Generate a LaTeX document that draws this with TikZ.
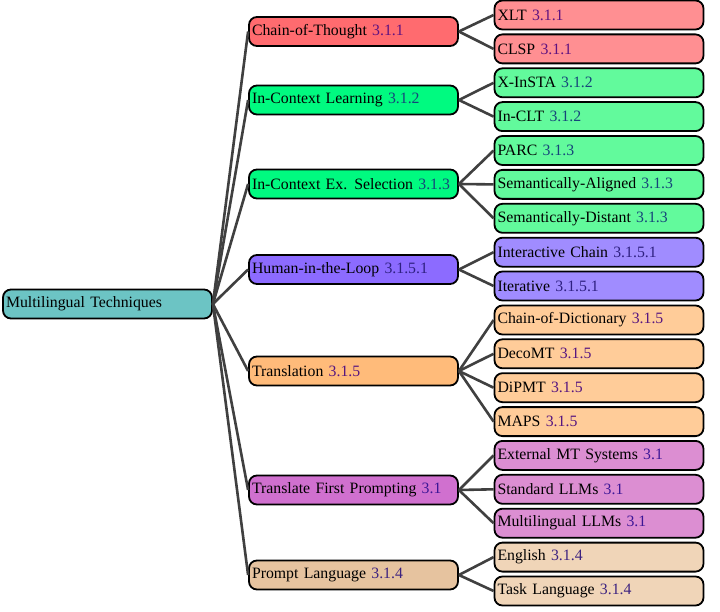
\documentclass[tikz,border=0pt]{standalone}
\usepackage{fontspec}
\setmainfont{Liberation Serif}
\begin{document}
\begin{tikzpicture}[x=1pt,y=-1pt,
  box/.style={draw=black, line width=1.8pt, rounded corners=8pt, minimum height=29pt,
    text width=203pt, inner xsep=3pt, inner ysep=2pt, align=left,
    font=\fontsize{15.8}{18}\selectfont},
  conn/.style={draw=black!75, line width=2.6pt}
]
\definecolor{cRoot}{HTML}{6CC4C4}
\definecolor{cCoT}{HTML}{FF6B6F}\definecolor{cCoTb}{HTML}{FF8F92}
\definecolor{cICL}{HTML}{00FA80}\definecolor{cICLb}{HTML}{62FA9C}
\definecolor{cHL}{HTML}{8C6BFF}\definecolor{cHLb}{HTML}{A08CFF}
\definecolor{cTr}{HTML}{FFBB7A}\definecolor{cTrb}{HTML}{FFCC99}
\definecolor{cTF}{HTML}{D070CF}\definecolor{cTFb}{HTML}{DC8ED2}
\definecolor{cPL}{HTML}{E6C39F}\definecolor{cPLb}{HTML}{F0D5B8}
\definecolor{nCoT}{HTML}{5E1280}
\definecolor{nICL}{HTML}{16457A}
\definecolor{nHL}{HTML}{2E2080}
\definecolor{nTr}{HTML}{561580}
\definecolor{nTF}{HTML}{3C1696}
\definecolor{nPL}{HTML}{3C2280}
\useasboundingbox (0,0) rectangle (720,612);
\fill[white] (0,0) rectangle (720,612);

% root
\node[box, fill=cRoot] (root) at (107.5,304) {Multilingual Techniques};

% level 1
\node[box, fill=cCoT] (cot) at (353.5,31.5) {Chain-of-Thought \textcolor{nCoT}{3.1.1}};
\node[box, fill=cICL] (icl) at (353.5,100) {In-Context Learning \textcolor{nICL}{3.1.2}};
\node[box, fill=cICL] (ices) at (353.5,184) {\mbox{In-Context Ex.\hspace{0.45em}Selection \textcolor{nICL}{3.1.3}}};
\node[box, fill=cHL] (hitl) at (353.5,269.5) {Human-in-the-Loop \textcolor{nHL}{3.1.5.1}};
\node[box, fill=cTr] (tr) at (353.5,371) {Translation \textcolor{nTr}{3.1.5}};
\node[box, fill=cTF] (tfp) at (353.5,490) {Translate First Prompting \textcolor{nTF}{3.1}};
\node[box, fill=cPL] (pl) at (353.5,575) {Prompt Language \textcolor{nPL}{3.1.4}};

% level 2
\node[box, fill=cCoTb] (xlt) at (599,15) {XLT \textcolor{nCoT}{3.1.1}};
\node[box, fill=cCoTb] (clsp) at (599,48.9) {CLSP \textcolor{nCoT}{3.1.1}};
\node[box, fill=cICLb] (xinsta) at (599,82.8) {X-InSTA \textcolor{nICL}{3.1.2}};
\node[box, fill=cICLb] (inclt) at (599,116.6) {In-CLT \textcolor{nICL}{3.1.2}};
\node[box, fill=cICLb] (parc) at (599,150.5) {PARC \textcolor{nICL}{3.1.3}};
\node[box, fill=cICLb] (sema) at (599,184.4) {Semantically-Aligned \textcolor{nICL}{3.1.3}};
\node[box, fill=cICLb] (semd) at (599,218.3) {Semantically-Distant \textcolor{nICL}{3.1.3}};
\node[box, fill=cHLb] (ichain) at (599,252.2) {Interactive Chain \textcolor{nHL}{3.1.5.1}};
\node[box, fill=cHLb] (iter) at (599,286) {Iterative \textcolor{nHL}{3.1.5.1}};
\node[box, fill=cTrb] (cod) at (599,320) {Chain-of-Dictionary \textcolor{nTr}{3.1.5}};
\node[box, fill=cTrb] (deco) at (599,353.8) {DecoMT \textcolor{nTr}{3.1.5}};
\node[box, fill=cTrb] (dipmt) at (599,387.7) {DiPMT \textcolor{nTr}{3.1.5}};
\node[box, fill=cTrb] (maps) at (599,421.6) {MAPS \textcolor{nTr}{3.1.5}};
\node[box, fill=cTFb] (ext) at (599,455.4) {External MT Systems \textcolor{nTF}{3.1}};
\node[box, fill=cTFb] (std) at (599,489.3) {Standard LLMs \textcolor{nTF}{3.1}};
\node[box, fill=cTFb] (mllm) at (599,523.2) {Multilingual LLMs \textcolor{nTF}{3.1}};
\node[box, fill=cPLb] (eng) at (599,557.1) {English \textcolor{nPL}{3.1.4}};
\node[box, fill=cPLb] (task) at (599,591) {Task Language \textcolor{nPL}{3.1.4}};

% connectors
\foreach \c in {cot,icl,ices,hitl,tr,tfp,pl}
  \draw[conn] (root.east) -- (\c.west);
\foreach \p/\c in {cot/xlt,cot/clsp,icl/xinsta,icl/inclt,ices/parc,ices/sema,ices/semd,
  hitl/ichain,hitl/iter,tr/cod,tr/deco,tr/dipmt,tr/maps,tfp/ext,tfp/std,tfp/mllm,pl/eng,pl/task}
  \draw[conn] (\p.east) -- (\c.west);
\end{tikzpicture}
\end{document}
